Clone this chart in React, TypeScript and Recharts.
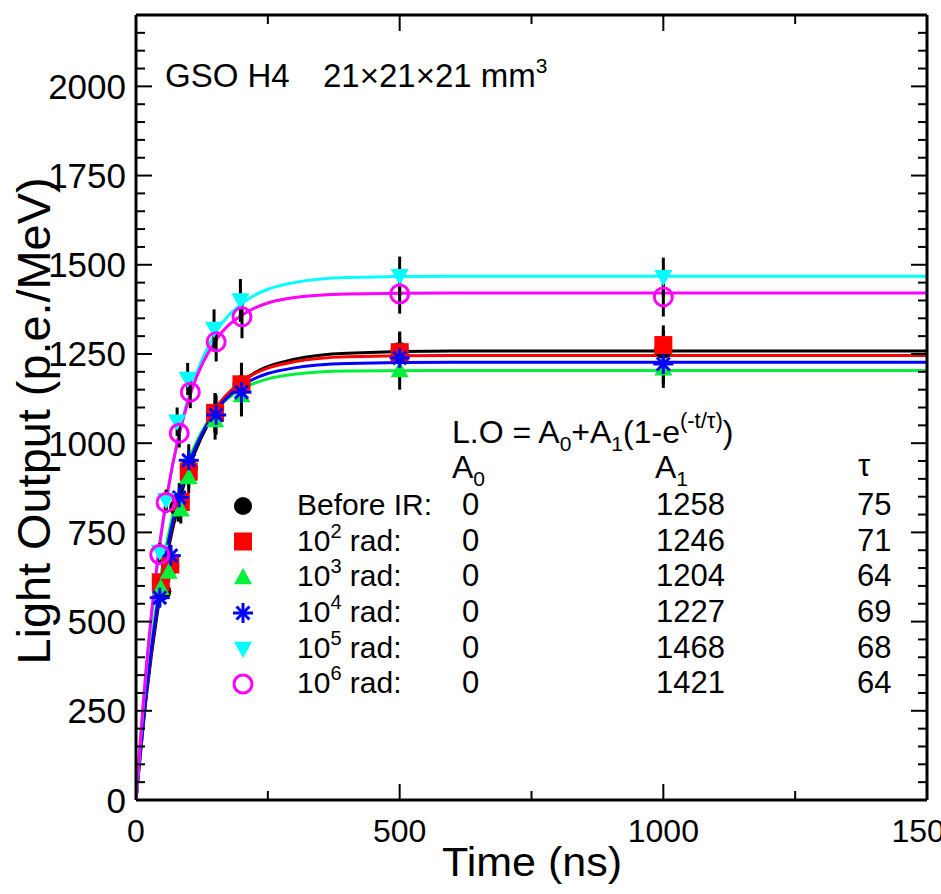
import { ComposedChart, Line, Scatter, XAxis, YAxis, ErrorBar } from "recharts"

// fit curves
const CURVE_T = [0, 20, 40, 60, 80, 100, 150, 200, 300, 400, 600, 1500]
const curveBefore = [0, 295, 520, 693, 825, 926, 1088, 1171, 1235, 1252, 1258, 1258]
const curveRad2 = [0, 305, 537, 710, 842, 941, 1095, 1172, 1228, 1242, 1246, 1246]
const curveRad3 = [0, 323, 560, 732, 859, 951, 1088, 1151, 1193, 1202, 1204, 1204]
const curveRad4 = [0, 309, 540, 713, 842, 939, 1087, 1160, 1211, 1223, 1227, 1227]
const curveRad5 = [0, 374, 653, 860, 1016, 1131, 1307, 1390, 1450, 1464, 1468, 1468]
const curveRad6 = [0, 381, 661, 864, 1013, 1123, 1285, 1358, 1408, 1418, 1421, 1421]

// measured points (time ns, light output)
const tBefore = [50, 65, 80, 100, 150, 200, 500, 1000]
const loBefore = [585, 655, 820, 930, 1085, 1165, 1258, 1262]
const tRad2 = [47, 65, 85, 100, 150, 200, 500, 1000]
const loRad2 = [610, 660, 835, 920, 1085, 1165, 1255, 1275]
const tRad3 = [47, 62, 85, 100, 150, 200, 500, 1000]
const loRad3 = [595, 640, 815, 905, 1065, 1135, 1205, 1210]
const tRad4 = [45, 66, 82, 100, 152, 200, 500, 1000]
const loRad4 = [567, 685, 848, 952, 1079, 1143, 1239, 1222]
const tRad5 = [45, 57, 78, 98, 148, 198, 500, 1000]
const loRad5 = [695, 840, 1060, 1180, 1320, 1400, 1468, 1465]
const tRad6 = [45, 57, 82, 103, 152, 201, 500, 1000]
const loRad6 = [688, 834, 1028, 1143, 1284, 1354, 1418, 1410]
const errors = [25, 30, 40, 45, 55, 60, 55, 55]

// fit table
const labels = ["Before IR:", "2", "3", "4", "5", "6"]
const A0 = [0, 0, 0, 0, 0, 0]
const A1 = [1258, 1246, 1204, 1227, 1468, 1421]
const TAU = [75, 71, 64, 69, 68, 64]

const X_TICKS = [0, 250, 500, 750, 1000, 1250, 1500]
const Y_TICKS = Array.from({ length: 44 }, (_, i) => i * 50)

const FONT = "'Liberation Sans', Arial, sans-serif"

type Kind = "dot" | "square" | "up" | "star" | "down" | "ring"

const series: { kind: Kind; color: string; t: number[]; lo: number[]; curve: number[] }[] = [
  { kind: "dot", color: "#000000", t: tBefore, lo: loBefore, curve: curveBefore },
  { kind: "square", color: "#ff0000", t: tRad2, lo: loRad2, curve: curveRad2 },
  { kind: "up", color: "#00f03c", t: tRad3, lo: loRad3, curve: curveRad3 },
  { kind: "star", color: "#0000ff", t: tRad4, lo: loRad4, curve: curveRad4 },
  { kind: "down", color: "#00ffff", t: tRad5, lo: loRad5, curve: curveRad5 },
  { kind: "ring", color: "#ff00ff", t: tRad6, lo: loRad6, curve: curveRad6 },
]

function Marker({ kind, color, cx, cy }: { kind: Kind; color: string; cx: number; cy: number }) {
  const r = 9
  switch (kind) {
    case "dot":
      return <circle cx={cx} cy={cy} r={r} fill={color} />
    case "square":
      return <rect x={cx - r} y={cy - r} width={2 * r} height={2 * r} fill={color} />
    case "up":
      return <polygon points={`${cx},${cy - r} ${cx + r},${cy + r * 0.8} ${cx - r},${cy + r * 0.8}`} fill={color} />
    case "down":
      return <polygon points={`${cx},${cy + r} ${cx + r},${cy - r * 0.8} ${cx - r},${cy - r * 0.8}`} fill={color} />
    case "ring":
      return <circle cx={cx} cy={cy} r={r} fill="none" stroke={color} strokeWidth={3} />
    case "star": {
      const d = r * 0.72
      return (
        <g stroke={color} strokeWidth={3}>
          <line x1={cx} y1={cy - r - 1} x2={cx} y2={cy + r + 1} />
          <line x1={cx - r - 1} y1={cy} x2={cx + r + 1} y2={cy} />
          <line x1={cx - d} y1={cy - d} x2={cx + d} y2={cy + d} />
          <line x1={cx - d} y1={cy + d} x2={cx + d} y2={cy - d} />
        </g>
      )
    }
  }
}

function BottomTick({ x, y, payload }: any) {
  const v = payload.value
  const major = v % 500 === 0
  return (
    <g>
      <line x1={x} y1={y} x2={x} y2={y - (major ? 16 : 9)} stroke="#000" strokeWidth={2} />
      {major && (
        <text x={x} y={y + 42} textAnchor="middle" fontSize={32} fontFamily={FONT} fill="#000">
          {v}
        </text>
      )}
    </g>
  )
}

function TopTick({ x, y, payload }: any) {
  const major = payload.value % 500 === 0
  return <line x1={x} y1={y} x2={x} y2={y + (major ? 16 : 9)} stroke="#000" strokeWidth={2} />
}

function LeftTick({ x, y, payload }: any) {
  const v = payload.value
  const major = v % 250 === 0
  return (
    <g>
      <line x1={x} y1={y} x2={x + (major ? 16 : 9)} y2={y} stroke="#000" strokeWidth={2} />
      {major && (
        <text x={x - 10} y={y + 12.5} textAnchor="end" fontSize={35} fontFamily={FONT} fill="#000">
          {v}
        </text>
      )}
    </g>
  )
}

function RightTick({ x, y, payload }: any) {
  const major = payload.value % 250 === 0
  return <line x1={x} y1={y} x2={x - (major ? 16 : 9)} y2={y} stroke="#000" strokeWidth={2} />
}

const rowBase = [515, 550.5, 586, 622, 658, 693]

function Annotations() {
  return (
    <svg
      width={941}
      height={894}
      style={{ position: "absolute", left: 0, top: 0, pointerEvents: "none" }}
      fontFamily={FONT}
      fill="#000"
    >
      <text x={165} y={87} fontSize={33}>GSO H4</text>
      <text x={323} y={87} fontSize={33}>
        21×21×21 mm<tspan dy={-14} fontSize={21}>3</tspan>
      </text>

      <text
        x={50}
        y={421}
        fontSize={47}
        textAnchor="middle"
        textLength={487}
        lengthAdjust="spacingAndGlyphs"
        transform="rotate(-90 50 421)"
      >
        Light Output (p.e./MeV)
      </text>
      <text x={532} y={876} fontSize={40} textAnchor="middle" textLength={180} lengthAdjust="spacingAndGlyphs">
        Time (ns)
      </text>

      <text x={452} y={443} fontSize={32}>
        L.O = A<tspan dy={8} fontSize={21}>0</tspan>
        <tspan dy={-8}>+A</tspan>
        <tspan dy={8} fontSize={21}>1</tspan>
        <tspan dy={-8}>(1-e</tspan>
        <tspan dy={-15} fontSize={22}>(-t/τ)</tspan>
        <tspan dy={15}>)</tspan>
      </text>
      <text x={452} y={478} fontSize={32}>
        A<tspan dy={8} fontSize={21}>0</tspan>
      </text>
      <text x={655} y={478} fontSize={32}>
        A<tspan dy={8} fontSize={21}>1</tspan>
      </text>
      <text x={858} y={476} fontSize={31}>τ</text>

      {series.map((s, i) => (
        <g key={i}>
          <Marker kind={s.kind} color={s.color} cx={243} cy={rowBase[i] - 9} />
          {i === 0 ? (
            <text x={297} y={rowBase[i]} fontSize={30}>{labels[i]}</text>
          ) : (
            <text x={297} y={rowBase[i]} fontSize={30}>
              10<tspan dy={-13} fontSize={20}>{labels[i]}</tspan>
              <tspan dy={13}> rad:</tspan>
            </text>
          )}
          <text x={462} y={rowBase[i]} fontSize={31}>{A0[i]}</text>
          <text x={656} y={rowBase[i]} fontSize={31}>{A1[i]}</text>
          <text x={857} y={rowBase[i]} fontSize={31}>{TAU[i]}</text>
        </g>
      ))}
    </svg>
  )
}

export default function App() {
  const axisLine = { stroke: "#000", strokeWidth: 3 }
  return (
    <div style={{ position: "absolute", left: 0, top: 0, width: 941, height: 894, background: "#fff" }}>
      <ComposedChart width={941} height={894} margin={{ top: 14, right: 13, bottom: 0, left: 0 }}>
        <XAxis
          xAxisId="b"
          type="number"
          dataKey="t"
          domain={[0, 1500]}
          allowDataOverflow
          ticks={X_TICKS}
          interval={0}
          height={94}
          tickSize={0}
          tickMargin={0}
          tickLine={false}
          axisLine={axisLine}
          tick={<BottomTick />}
        />
        <XAxis
          xAxisId="t"
          orientation="top"
          type="number"
          dataKey="t"
          domain={[0, 1500]}
          allowDataOverflow
          ticks={X_TICKS}
          interval={0}
          height={1}
          tickSize={0}
          tickMargin={0}
          tickLine={false}
          axisLine={axisLine}
          tick={<TopTick />}
        />
        <YAxis
          yAxisId="l"
          type="number"
          dataKey="v"
          domain={[0, 2200]}
          allowDataOverflow
          ticks={Y_TICKS}
          interval={0}
          width={136}
          tickSize={0}
          tickMargin={0}
          tickLine={false}
          axisLine={axisLine}
          tick={<LeftTick />}
        />
        <YAxis
          yAxisId="r"
          orientation="right"
          type="number"
          dataKey="v"
          domain={[0, 2200]}
          allowDataOverflow
          ticks={Y_TICKS}
          interval={0}
          width={1}
          tickSize={0}
          tickMargin={0}
          tickLine={false}
          axisLine={axisLine}
          tick={<RightTick />}
        />

        {/* invisible series so the mirrored top/right frame axes get drawn */}
        <Scatter
          xAxisId="t"
          yAxisId="r"
          data={tBefore.map((t, j) => ({ t, v: loBefore[j] }))}
          dataKey="v"
          isAnimationActive={false}
          shape={() => <g />}
        />

        {series.map((s, i) => (
          <Line
            key={`c${i}`}
            xAxisId="b"
            yAxisId="l"
            data={CURVE_T.map((t, j) => ({ t, v: s.curve[j] }))}
            dataKey="v"
            type="monotone"
            stroke={s.color}
            strokeWidth={3}
            dot={false}
            activeDot={false}
            isAnimationActive={false}
          />
        ))}
        {series.map((s, i) => (
          <Scatter
            key={`p${i}`}
            xAxisId="b"
            yAxisId="l"
            data={s.t.map((t, j) => ({ t, v: s.lo[j], err: errors[j] }))}
            dataKey="v"
            isAnimationActive={false}
            shape={(p: any) => <Marker kind={s.kind} color={s.color} cx={p.cx} cy={p.cy} />}
          />
        ))}
        {series.map((s, i) => (
          <Scatter
            key={`e${i}`}
            xAxisId="b"
            yAxisId="l"
            data={s.t.map((t, j) => ({ t, v: s.lo[j], err: errors[j] }))}
            dataKey="v"
            isAnimationActive={false}
            shape={() => <g />}
          >
            <ErrorBar dataKey="err" direction="y" width={0} stroke="#000" strokeWidth={3} isAnimationActive={false} />
          </Scatter>
        ))}
      </ComposedChart>
      <Annotations />
    </div>
  )
}
